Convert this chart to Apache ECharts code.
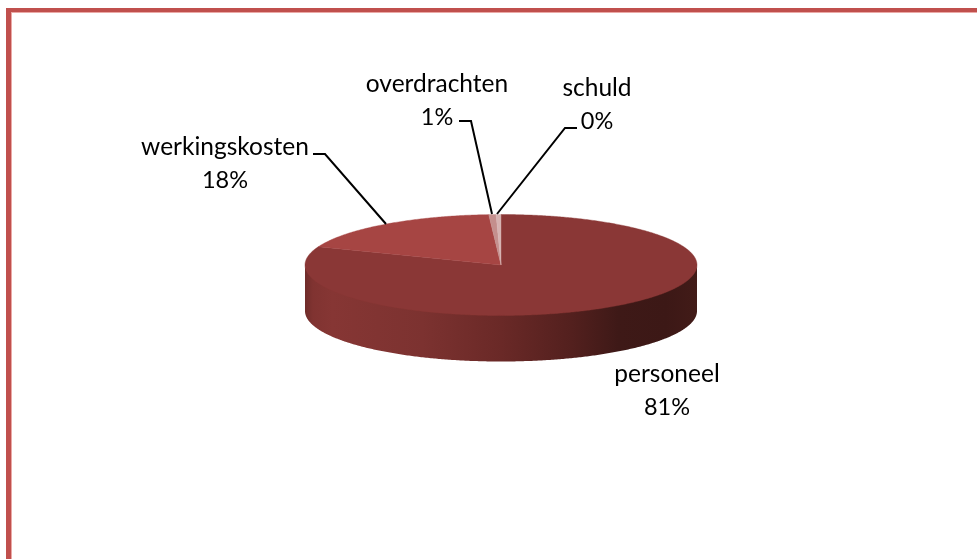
<!DOCTYPE html>
<html>
<head>
<meta charset="utf-8">
<style>html,body{margin:0;padding:0;background:#fff}#c{width:977px;height:559px}</style>
<script src="https://cdn.jsdelivr.net/npm/echarts@6/dist/echarts.min.js"></script>
</head>
<body>
<div id="c"></div>
<script>
// Data, clockwise from 12 o'clock
const categories = ['personeel', 'werkingskosten', 'overdrachten', 'schuld'];
const values = [80.9, 18.1, 0.6, 0.4];
const tickLabels = ['81%', '18%', '1%', '0%'];

// Presentation
const topColors = ['#8a3736', '#a64543', '#c48f8d', '#d6b3b2'];
const labelCenters = [[667, 374], [225, 147], [437, 84], [597, 88]];
const lineGap = 33.5;
const leaders = [
  null,
  [[313, 154], [325, 154], [386, 224]],
  [[459, 121], [471, 121], [492, 214]],
  [[577, 128], [565, 128], [497, 214]]
];
const cx = 501, cy = 265, rx = 196, ry = 50.5, depth = 46;
const FONT = 'Lato, "Open Sans", sans-serif';
const total = values.reduce((a, b) => a + b, 0);

function startAngle(i) {
  let s = 0;
  for (let k = 0; k < i; k++) s += values[k];
  return s / total * 360;
}
function rim(deg, dy) {
  const t = deg * Math.PI / 180;
  return [cx + rx * Math.sin(t), cy - ry * Math.cos(t) + (dy || 0)];
}
function arc(a, b, dy) {
  const pts = [];
  const n = Math.max(2, Math.ceil(Math.abs(b - a) / 0.5));
  for (let i = 0; i <= n; i++) pts.push(rim(a + (b - a) * i / n, dy));
  return pts;
}
const wallFill = {
  type: 'linear', x: cx - rx, y: 0, x2: cx + rx, y2: 0, global: true,
  colorStops: [
    { offset: 0, color: '#6f2c2a' },
    { offset: 0.02, color: '#803331' },
    { offset: 0.07, color: '#863634' },
    { offset: 0.3, color: '#7c3230' },
    { offset: 0.5, color: '#6a2927' },
    { offset: 0.68, color: '#53201e' },
    { offset: 0.8, color: '#3e1917' },
    { offset: 0.92, color: '#3c1816' },
    { offset: 1, color: '#421b18' }
  ]
};

function renderWall(params, api) {
  const i = params.dataIndex;
  const a = startAngle(i);
  const b = a + api.value(0) / total * 360;
  const from = Math.max(a, 90), to = Math.min(b, 270);
  if (to <= from) return { type: 'group', children: [] };
  return {
    type: 'polygon',
    shape: { points: arc(from, to, -1.5).concat(arc(to, from, depth)) },
    style: { fill: wallFill }
  };
}
function renderTop(params, api) {
  const i = params.dataIndex;
  const a = startAngle(i);
  const b = a + api.value(0) / total * 360;
  return {
    type: 'polygon',
    shape: { points: [[cx, cy]].concat(arc(a, b, 0)) },
    style: { fill: topColors[i], stroke: topColors[i], lineWidth: 0.4 }
  };
}
function renderLabel(params, api) {
  const i = params.dataIndex;
  const c = labelCenters[i];
  const textStyle = (t, y, size) => ({
    type: 'text',
    style: { text: t, x: c[0], y: y, align: 'center', verticalAlign: 'middle', fill: '#000', font: size + 'px ' + FONT }
  });
  const children = [
    textStyle(categories[i], c[1], 24.5),
    textStyle(tickLabels[i], c[1] + lineGap, 23.5)
  ];
  if (leaders[i]) children.push({
    type: 'polyline',
    shape: { points: leaders[i] },
    style: { fill: null, stroke: '#000', lineWidth: 2 }
  });
  return { type: 'group', children };
}

const chart = echarts.init(document.getElementById('c'), null, { renderer: 'canvas' });
const seriesData = values.map(v => [v]);
chart.setOption({
  animation: false,
  backgroundColor: '#fff',
  graphic: [
    { type: 'rect', shape: { x: 6, y: 8, width: 971, height: 5 }, style: { fill: '#eba9a6' } },
    { type: 'rect', shape: { x: 6, y: 8, width: 6, height: 551 }, style: { fill: '#eba9a6' } },
    { type: 'rect', shape: { x: 6, y: 8, width: 971, height: 4 }, style: { fill: '#c0504d' } },
    { type: 'rect', shape: { x: 6, y: 8, width: 5, height: 551 }, style: { fill: '#c0504d' } }
  ],
  series: [
    { type: 'custom', coordinateSystem: 'none', name: 'wall', renderItem: renderWall, data: seriesData, silent: true, z: 2 },
    { type: 'custom', coordinateSystem: 'none', name: 'top', renderItem: renderTop, data: seriesData, silent: true, z: 3 },
    { type: 'custom', coordinateSystem: 'none', name: 'labels', renderItem: renderLabel, data: seriesData, silent: true, z: 4 }
  ]
});
</script>
</body>
</html>
